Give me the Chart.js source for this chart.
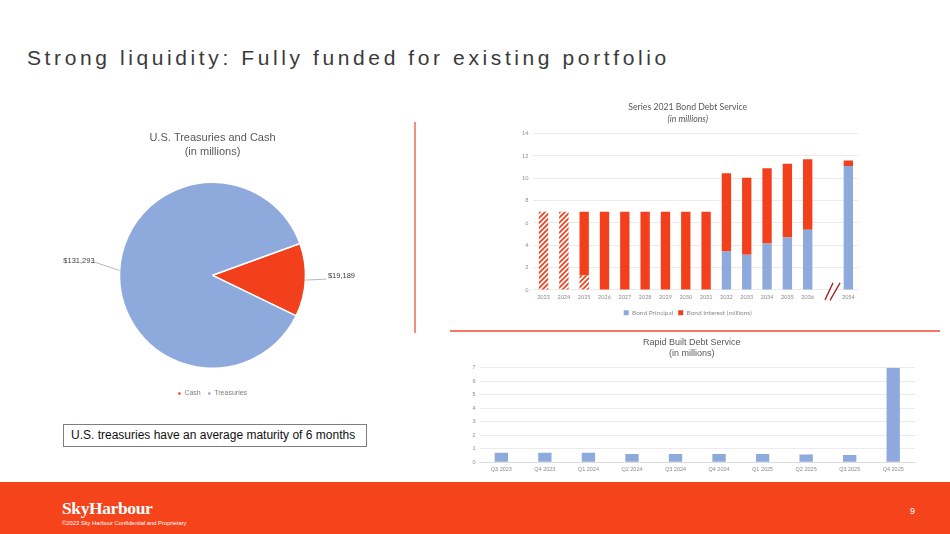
<!DOCTYPE html>
<html><head><meta charset="utf-8">
<script src="https://cdn.jsdelivr.net/npm/chart.js@4.4.0/dist/chart.umd.min.js"></script>
<style>
html,body{margin:0;padding:0;background:#fff;}
body{width:950px;height:534px;position:relative;overflow:hidden;font-family:"Liberation Sans",Arial,sans-serif;}
.abs{position:absolute;}
#title{left:27px;top:47px;font-size:21px;line-height:21px;color:#3a3a3a;white-space:nowrap;}
#vline{left:414px;top:122px;width:1.5px;height:211px;background:#F0917F;}
#hline{left:450px;top:330px;width:490px;height:1.5px;background:#EE7A62;}
#note{left:63px;top:424px;width:304px;height:23px;border:1px solid #7f7f7f;box-sizing:border-box;font-size:12px;line-height:21px;padding-left:7px;color:#111;white-space:nowrap;}
#footer{left:0;top:482px;width:950px;height:52px;background:#F5431B;}
#brand{left:62px;top:499px;font-family:"Liberation Serif","DejaVu Serif",serif;font-weight:bold;font-size:17.5px;line-height:18px;color:#fff;letter-spacing:-0.4px;}
#copy{left:62px;top:520px;font-size:5.8px;line-height:6px;color:#fff;white-space:nowrap;}
#page{left:910px;top:507px;font-size:9px;line-height:9px;color:#fff;}
canvas{position:absolute;}
</style></head>
<body>
<div id="title" class="abs">Strong liquidity: Fully funded for existing portfolio</div>
<div id="vline" class="abs"></div>
<div id="hline" class="abs"></div>
<canvas id="pie" width="345" height="286" style="left:40px;top:121px;"></canvas>
<canvas id="bond" width="380" height="229" style="left:500px;top:97px;"></canvas>
<canvas id="rapid" width="470" height="143" style="left:455px;top:335px;"></canvas>
<div id="note" class="abs">U.S. treasuries have an average maturity of 6 months</div>
<div id="footer" class="abs"></div>
<div id="brand" class="abs">SkyHarbour</div>
<div id="copy" class="abs">©2023 Sky Harbour Confidential and Proprietary</div>
<div id="page" class="abs">9</div>
<script>
// ---------- data ----------
const pieLabels = ['Cash', 'Treasuries'];
const pieValues = [19189, 131293];

const bondYears = ['2023','2024','2025','2026','2027','2028','2029','2030','2031','2032','2033','2034','2035','2036','','2054'];
const bondPrincipal = [null,null,null,null,null,null,null,null,null,3.45,3.15,4.15,4.7,5.4,null,11.1];
const bondInterestFunded = [7,7,1.3,null,null,null,null,null,null,null,null,null,null,null,null,null];
const bondInterest = [null,null,5.7,7,7,7,7,7,7,7.0,6.9,6.75,6.6,6.3,null,0.5];

const rapidQuarters = ['Q3 2023','Q4 2023','Q1 2024','Q2 2024','Q3 2024','Q4 2024','Q1 2025','Q2 2025','Q3 2025','Q4 2025'];
const rapidValues = [0.7,0.7,0.7,0.6,0.6,0.6,0.6,0.57,0.52,7.0];

const BLUE = '#8EA9DB';
const RED = '#F2401D';
const TICK = '#8c8c8c';

// title letter spacing to fit width
(function(){
  const t = document.getElementById('title');
  const w0 = t.offsetWidth; const n = t.textContent.length;
  t.style.letterSpacing = ((643 - w0) / n) + 'px';
})();

function hatch(color){
  const s = 5;
  const c = document.createElement('canvas'); c.width = s; c.height = s;
  const x = c.getContext('2d');
  x.fillStyle = '#fff'; x.fillRect(0,0,s,s);
  x.strokeStyle = color; x.lineWidth = 1.7;
  x.beginPath();
  x.moveTo(-1, s+1); x.lineTo(s+1, -1);
  x.moveTo(-1, 1); x.lineTo(1, -1);
  x.moveTo(s-1, s+1); x.lineTo(s+1, s-1);
  x.stroke();
  return x.createPattern(c, 'repeat');
}

// ---------- pie ----------
const pieLabelPlugin = {
  id: 'pieLabels',
  afterDatasetsDraw(chart){
    const ctx = chart.ctx;
    const meta = chart.getDatasetMeta(0);
    meta.data.forEach((arc, i) => {
      const p = arc.getProps(['x','y','startAngle','endAngle','outerRadius'], true);
      const mid = (p.startAngle + p.endAngle) / 2;
      const px = p.x + Math.cos(mid) * p.outerRadius;
      const py = p.y + Math.sin(mid) * p.outerRadius;
      const left = Math.cos(mid) < 0;
      const ex = px + (left ? -24 : 21);
      const ey = py + (left ? -8 : -1);
      ctx.save();
      ctx.strokeStyle = '#a6a6a6'; ctx.lineWidth = 0.8;
      ctx.beginPath(); ctx.moveTo(px, py); ctx.lineTo(ex, ey);
      if (left) ctx.lineTo(ex - 4, ey);
      ctx.stroke();
      ctx.fillStyle = '#404040';
      ctx.font = '7.5px "Liberation Sans", Arial, sans-serif';
      ctx.textBaseline = 'middle';
      const txt = '$' + chart.data.datasets[0].data[i].toLocaleString('en-US');
      if (left){ ctx.textAlign = 'right'; ctx.fillText(txt, ex - 1, ey - 2); }
      else { ctx.textAlign = 'left'; ctx.fillText(txt, ex + 1.5, ey - 3); }
      ctx.restore();
    });
  }
};

new Chart(document.getElementById('pie'), {
  type: 'pie',
  data: { labels: pieLabels, datasets: [{ data: pieValues, backgroundColor: [RED, BLUE], borderColor: '#fff', borderWidth: 1.5, radius: 93 }] },
  options: {
    responsive: false, animation: false, rotation: 70,
    plugins: {
      title: { display: true, text: ['U.S. Treasuries and Cash', '(in millions)'], color: '#595959',
        font: { size: 11, weight: 'normal', family: '"Liberation Sans", Arial, sans-serif', lineHeight: 1.3 }, padding: { top: 10, bottom: 8 } },
      legend: { position: 'bottom', labels: { usePointStyle: true, pointStyle: 'circle', boxWidth: 3, boxHeight: 3, padding: 7, color: '#7f7f7f',
        font: { size: 7, family: '"Liberation Sans", Arial, sans-serif' } } },
      tooltip: { enabled: false }
    }
  },
  plugins: [pieLabelPlugin]
});

// ---------- bond bar ----------
const breakPlugin = {
  id: 'breakMark',
  afterDraw(chart){
    const ctx = chart.ctx; const xs = chart.scales.x; const a = chart.chartArea;
    const c = xs.getPixelForValue(14);
    ctx.save(); ctx.strokeStyle = '#A8231A'; ctx.lineWidth = 1.3;
    ctx.beginPath();
    ctx.moveTo(c - 3, a.bottom + 10); ctx.lineTo(c + 5, a.bottom - 7);
    ctx.moveTo(c + 2, a.bottom + 10.5); ctx.lineTo(c + 12, a.bottom - 7);
    ctx.stroke(); ctx.restore();
  }
};

const calib = 'Lato, "Open Sans", sans-serif';
new Chart(document.getElementById('bond'), {
  type: 'bar',
  data: { labels: bondYears, datasets: [
    { label: 'Bond Principal', data: bondPrincipal, backgroundColor: BLUE },
    { label: 'Funded', data: bondInterestFunded, backgroundColor: hatch(RED) },
    { label: 'Bond Interest (millions)', data: bondInterest, backgroundColor: RED }
  ]},
  options: {
    responsive: false, animation: false,
    layout: { padding: { left: 17, right: 21.5, bottom: 0 } },
    datasets: { bar: { barPercentage: 0.46, categoryPercentage: 1 } },
    scales: {
      x: { stacked: true, grid: { display: false, drawTicks: false }, border: { display: false },
        ticks: { autoSkip: false, maxRotation: 0, padding: 4, color: TICK, font: { size: 5.5, family: calib } } },
      y: { stacked: true, min: 0, max: 14, border: { display: false },
        grid: { color: '#e6e6e6', drawTicks: false, lineWidth: 0.8 },
        ticks: { stepSize: 2, padding: 5, color: TICK, font: { size: 5.5, family: calib } } }
    },
    plugins: {
      title: { display: true, text: 'Series 2021 Bond Debt Service', color: '#595959',
        font: { size: 8.7, weight: 'normal', family: calib, lineHeight: 1.24 }, padding: { top: 5.3, bottom: 0 } },
      subtitle: { display: true, text: '(in millions)', color: '#595959',
        font: { size: 8.7, style: 'italic', family: calib, lineHeight: 1.24 }, padding: { top: 0.8, bottom: 9 } },
      legend: { position: 'bottom', labels: { boxWidth: 5, boxHeight: 5, padding: 5, color: TICK,
        font: { size: 6.5, family: calib }, filter: (it) => it.text !== 'Funded' } },
      tooltip: { enabled: false }
    }
  },
  plugins: [breakPlugin]
});

// ---------- rapid bar ----------
new Chart(document.getElementById('rapid'), {
  type: 'bar',
  data: { labels: rapidQuarters, datasets: [{ label: 'Rapid Built', data: rapidValues, backgroundColor: BLUE }] },
  options: {
    responsive: false, animation: false,
    layout: { padding: { left: 13.5, right: 10, bottom: 1.3 } },
    datasets: { bar: { barPercentage: 0.306, categoryPercentage: 1 } },
    scales: {
      x: { grid: { display: false, drawTicks: false }, border: { display: true, color: '#d9d9d9', width: 0.8 },
        ticks: { autoSkip: false, maxRotation: 0, padding: 4, color: TICK, font: { size: 5.5, family: '"Liberation Sans", Arial, sans-serif' } } },
      y: { min: 0, max: 7, border: { display: false },
        grid: { color: '#e6e6e6', drawTicks: false, lineWidth: 0.8 },
        ticks: { stepSize: 1, padding: 4, color: TICK, font: { size: 5.5, family: '"Liberation Sans", Arial, sans-serif' } } }
    },
    plugins: {
      title: { display: true, text: 'Rapid Built Debt Service', color: '#595959',
        font: { size: 9, weight: 'normal', family: '"Liberation Sans", Arial, sans-serif', lineHeight: 1.2 }, padding: { top: 2.3, bottom: 0 } },
      subtitle: { display: true, text: '(in millions)', color: '#595959',
        font: { size: 9, family: '"Liberation Sans", Arial, sans-serif', lineHeight: 1.2 }, padding: { top: 0.5, bottom: 8.3 } },
      legend: { display: false },
      tooltip: { enabled: false }
    }
  }
});
</script>
</body></html>
